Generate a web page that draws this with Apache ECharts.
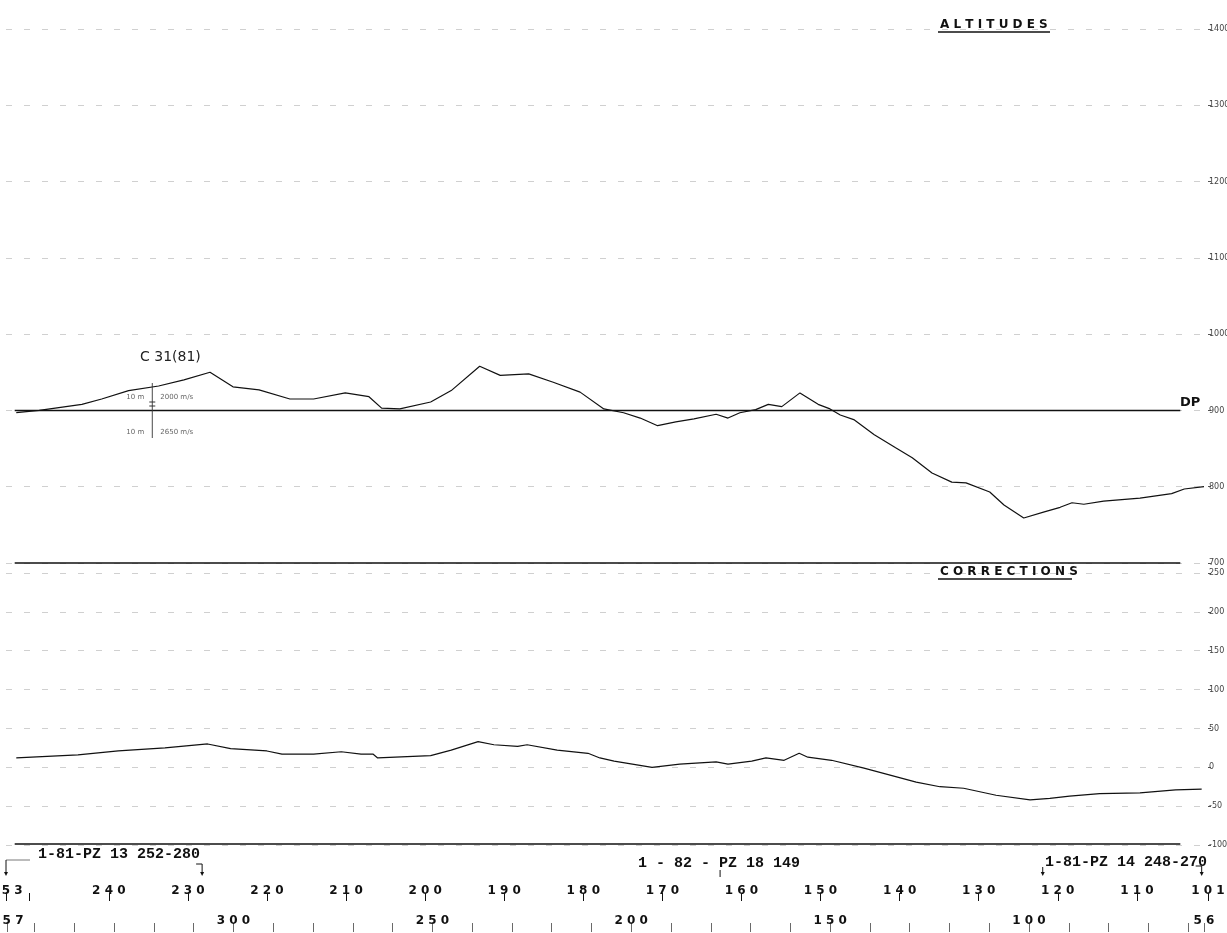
<!DOCTYPE html>
<html><head><meta charset="utf-8">
<script src="https://cdn.jsdelivr.net/npm/echarts@6/dist/echarts.min.js"></script>
<style>html,body{margin:0;padding:0;background:#fff}#c{width:1227px;height:933px}</style>
</head><body><div id="c"></div>
<script>
// ---- data ----
const altCdp = [251.7, 248.8, 243.4, 240.9, 237.5, 233.7, 230.5, 227.2, 224.3, 221.0, 217.1, 214.1, 210.1, 207.1, 205.5, 203.2, 199.3, 196.7, 193.1, 190.5, 186.9, 183.8, 180.4, 177.4, 174.9, 172.8, 170.6, 168.3, 166.0, 163.2, 161.7, 160.2, 158.2, 156.6, 154.9, 152.6, 150.3, 148.8, 147.5, 145.8, 143.2, 140.5, 138.4, 135.9, 133.4, 131.6, 128.6, 126.8, 124.3, 121.7, 119.7, 118.2, 116.7, 114.2, 109.6, 105.6, 104.0, 101.5];
const altVal = [897, 900, 908, 915, 926, 932, 940, 950, 931, 927, 915, 915, 923, 918, 903, 902, 911, 926, 958, 946, 948, 937, 924, 902, 897, 890, 880, 885, 889, 895, 890, 897, 901, 908, 905, 923, 908, 902, 894, 888, 868, 851, 838, 818, 806, 805, 793, 776, 759, 767, 773, 779, 777, 781, 785, 791, 797, 800];
const corCdp = [251.7, 243.9, 238.8, 232.9, 227.5, 224.6, 220.0, 218.1, 214.1, 210.6, 208.1, 206.6, 206.0, 199.3, 196.7, 193.3, 191.3, 188.3, 187.1, 183.3, 179.4, 177.9, 176.1, 171.3, 167.8, 163.2, 161.7, 158.7, 156.9, 154.6, 152.7, 151.6, 148.6, 144.5, 141.2, 137.9, 134.9, 131.9, 127.8, 123.5, 121.0, 118.5, 114.7, 109.6, 105.1, 101.8];
const corVal = [12, 16, 21, 25, 30, 24, 21, 17, 17, 20, 17, 17, 12, 15, 22, 33, 29, 27, 29, 22, 18, 12, 8, 0, 4, 7, 4, 8, 12, 9, 18, 13, 9, -1, -10, -19, -25, -27, -36, -42, -40, -37, -34, -33, -29, -28];
const altTicks = [700, 800, 900, 1000, 1100, 1200, 1300, 1400];
const corTicks = [-100, -50, 0, 50, 100, 150, 200, 250];
const cdpLabels = [253, 240, 230, 220, 210, 200, 190, 180, 170, 160, 150, 140, 130, 120, 110, 101];
const cdpTicks = [253, 250, 240, 230, 220, 210, 200, 190, 180, 170, 160, 150, 140, 130, 120, 110, 101];
const spLabels = [357, 300, 250, 200, 150, 100, 56];
const spTicks = [357, 350, 340, 330, 320, 310, 300, 290, 280, 270, 260, 250, 240, 230, 220, 210, 200, 190, 180, 170, 160, 150, 140, 130, 120, 110, 100, 90, 80, 70, 60, 56];
const datumAlt = 900;
const lineStart = 251.9, lineEnd = 104.5;
const titleTop = 'ALTITUDES', titleBottom = 'CORRECTIONS';
const notes = [
  {text: '1-81-PZ 13 252-280', from: 253, to: 228.2},
  {text: '1 - 82 - PZ 18 149', at: 162.7},
  {text: '1-81-PZ 14 248-270', from: 121.9, to: 101.8}
];

const INK = '#111';
const spaced = v => String(v).split('').join(' ');
const pair = (xs, ys) => xs.map((x, i) => [x, ys[i]]);
const gridL = 6, gridR = 19;

const axisHidden = (gi, min, max) => ({
  type: 'value', gridIndex: gi, min: min, max: max, inverse: true, show: false
});
const gridLine = {show: true, lineStyle: {color: '#b0b0b0', width: 0.8, type: [6, 12], opacity: 0.75}};
const mkGrid = (top, height) => ({left: gridL, right: gridR, top: top, height: height, containLabel: false, outerBoundsMode: 'none'});

const option = {
  animation: false,
  backgroundColor: '#fff',
  grid: [mkGrid(29, 534), mkGrid(573, 272), mkGrid(900, 1), mkGrid(931, 1)],
  xAxis: [
    axisHidden(0, 101, 253),
    axisHidden(1, 101, 253),
    {
      type: 'value', gridIndex: 2, min: 101, max: 253, inverse: true, position: 'top',
      axisLine: {show: false}, splitLine: {show: false},
      axisTick: {show: true, customValues: cdpTicks, length: 8, lineStyle: {color: INK, width: 1}},
      axisLabel: {show: true, customValues: cdpLabels, margin: 3, formatter: v => spaced(v),
        fontFamily: 'DejaVu Sans', fontWeight: 'bold', fontSize: 12, color: INK}
    },
    {
      type: 'value', gridIndex: 3, min: 55, max: 357.2, inverse: true, position: 'top',
      axisLine: {show: false}, splitLine: {show: false},
      axisTick: {show: true, customValues: spTicks, length: 9, lineStyle: {color: '#444', width: 0.8}},
      axisLabel: {show: true, customValues: spLabels, margin: 4, formatter: v => spaced(v),
        fontFamily: 'DejaVu Sans', fontWeight: 'bold', fontSize: 12, color: INK}
    }
  ],
  yAxis: [
    {
      type: 'value', gridIndex: 0, min: 700, max: 1400, interval: 100, position: 'right',
      axisLine: {show: false},
      axisTick: {show: true, length: 3, lineStyle: {color: '#555'}},
      axisLabel: {margin: 1, fontSize: 8, color: '#444', fontFamily: 'DejaVu Sans', formatter: v => String(v)},
      splitLine: gridLine
    },
    {
      type: 'value', gridIndex: 1, min: -100, max: 250, interval: 50, position: 'right',
      axisLine: {show: false},
      axisTick: {show: true, length: 3, lineStyle: {color: '#555'}},
      axisLabel: {margin: 1, fontSize: 8, color: '#444', fontFamily: 'DejaVu Sans', formatter: v => String(v)},
      splitLine: gridLine
    },
    {type: 'value', gridIndex: 2, show: false},
    {type: 'value', gridIndex: 3, show: false}
  ],
  series: [
    {
      name: 'Altitudes', type: 'line', xAxisIndex: 0, yAxisIndex: 0,
      data: pair(altCdp, altVal), showSymbol: false, symbol: 'none',
      lineStyle: {color: INK, width: 1.2}, z: 5,
      markLine: {
        silent: true, symbol: ['none', 'none'], label: {show: false},
        data: [
          [{coord: [lineStart, datumAlt], lineStyle: {color: INK, width: 1.3, type: 'solid'}}, {coord: [lineEnd, datumAlt]}],
          [{coord: [lineStart, altTicks[0]], lineStyle: {color: INK, width: 1.5, type: 'solid'}}, {coord: [lineEnd, altTicks[0]]}]
        ]
      }
    },
    {
      name: 'Corrections', type: 'line', xAxisIndex: 1, yAxisIndex: 1,
      data: pair(corCdp, corVal), showSymbol: false, symbol: 'none',
      lineStyle: {color: INK, width: 1.2}, z: 5,
      markLine: {
        silent: true, symbol: ['none', 'none'], label: {show: false},
        data: [
          [{coord: [lineStart, corTicks[0] + 2], lineStyle: {color: INK, width: 1.5, type: 'solid'}}, {coord: [lineEnd, corTicks[0] + 2]}]
        ]
      }
    }
  ]
};

const chart = echarts.init(document.getElementById('c'));
chart.setOption(option);

const px = v => chart.convertToPixel({xAxisIndex: 2}, v);
const g = [];
const txt = (x, y, text, font, fill, align) => g.push({type: 'text', x: x, y: y, silent: true, z: 20,
  style: {text: text, font: font, fill: fill || INK, align: align || 'left', verticalAlign: 'middle'}});
const ln = (x1, y1, x2, y2, w, c) => g.push({type: 'line', silent: true, z: 20,
  shape: {x1: x1, y1: y1, x2: x2, y2: y2}, style: {stroke: c || INK, lineWidth: w || 1}});
const arrow = (x, y) => g.push({type: 'polygon', silent: true, z: 20,
  shape: {points: [[x - 2, y - 4], [x + 2, y - 4], [x, y]]}, style: {fill: INK}});

// titles
const titleFont = 'bold 12px "DejaVu Sans"';
txt(940, 25, spaced(titleTop), titleFont);
ln(938, 32, 1050, 32, 1.6);
txt(940, 572, spaced(titleBottom), titleFont);
ln(938, 579, 1072, 579, 1.6);

// DP label
txt(1180, 403, 'DP', 'bold 13px "DejaVu Sans"');

// C 31(81) marker
const cx = chart.convertToPixel({xAxisIndex: 0}, 234.5);
txt(140, 357, 'C 31(81)', '14px "DejaVu Sans"', '#222');
ln(cx, 383, cx, 438, 0.9, '#333');
ln(cx - 3, 402, cx + 3, 402, 1, '#333');
ln(cx - 3, 406, cx + 3, 406, 1, '#333');
txt(cx - 8, 397, '10 m', '7px "DejaVu Sans"', '#666', 'right');
txt(cx + 8, 397, '2000 m/s', '7px "DejaVu Sans"', '#666');
txt(cx - 8, 432, '10 m', '7px "DejaVu Sans"', '#666', 'right');
txt(cx + 8, 432, '2650 m/s', '7px "DejaVu Sans"', '#666');

// annotation row
const noteFont = 'bold 15px "Liberation Mono"';
{
  const a = px(notes[0].from), b = px(notes[0].to);
  txt(38, 854, notes[0].text, noteFont);
  ln(a, 860, a + 24, 860, 0.8, '#555');
  ln(a, 860, a, 873, 1);
  arrow(a, 876);
  ln(b - 6, 864, b, 864, 1);
  ln(b, 864, b, 873, 1);
  arrow(b, 876);
}
{
  const m = px(notes[1].at);
  txt(638, 863, notes[1].text, noteFont);
  ln(m, 870, m, 877, 1);
}
{
  const a = px(notes[2].from), b = px(notes[2].to);
  txt(1045, 862, notes[2].text, noteFont);
  ln(a, 867, a, 873, 1);
  arrow(a, 876);
  ln(b - 6, 866, b, 866, 1);
  ln(b, 866, b, 873, 1);
  arrow(b, 876);
}
chart.setOption({graphic: g});
</script>
</body></html>
